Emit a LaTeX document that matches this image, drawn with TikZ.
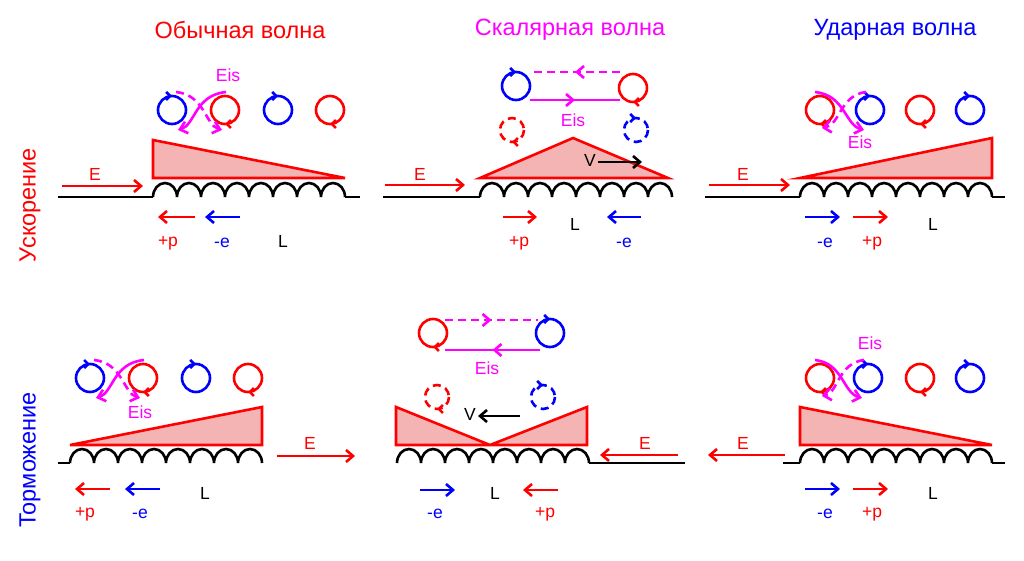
\documentclass[tikz,border=0pt]{standalone}
\usepackage{fontspec}
\setmainfont{Liberation Sans}
\usetikzlibrary{arrows.meta}
\usetikzlibrary{decorations.markings}

\definecolor{wavered}{RGB}{255,0,0}
\definecolor{wavepink}{RGB}{245,180,180}
\definecolor{eisc}{RGB}{255,0,255}
\definecolor{elblue}{RGB}{0,0,255}

\tikzset{
  wire/.style={line width=2.6pt, black},
  wave/.style={line width=2.6pt, draw=wavered, fill=wavepink},
  fld/.style={line width=2.6pt, -{Straight Barb[length=7pt,width=12pt]}},
  lbl/.style={font=\fontsize{17.5}{17.5}\selectfont},
  ttl/.style={font=\fontsize{23.5}{23.5}\selectfont},
  tip/.style={postaction={decorate, decoration={markings, mark=at position #1 with {\arrow{Straight Barb[length=4pt,width=8pt]}}}}},
  ring/.style={line width=2.6pt},
  dsh/.style={dash pattern=on 8pt off 5pt},
  midtip/.style={postaction={decorate, decoration={markings, mark=at position 0.5 with {\arrow{Straight Barb[length=7pt,width=12pt]}}}}},
}
\newcommand\coilat[2]{\draw[wire] (#1,#2) foreach \k in {1,...,8}{ arc[start angle=180, end angle=360, x radius=12, y radius=14] };}

\begin{document}
\begin{tikzpicture}[x=1pt,y=-1pt]
\useasboundingbox (0,0) rectangle (1024,561);
% titles
\node[ttl, text=wavered] (t1) at (240,30) {Обычная волна};
\node[ttl, text=eisc] (t2) at (570,30) {Скалярная волна};
\node[ttl, text=elblue] (t3) at (895,30) {Ударная волна};
\node[ttl, text=wavered, rotate=90] (s1) at (30,205) {Ускорение};
\node[ttl, text=elblue, rotate=90] (s2) at (30,460) {Торможение};

% top left
\draw[wire] (58,197) -- (153,197); \coilat{153}{197} \draw[wire] (345,197) -- (360,197);
\draw[wave] (153,140) -- (345,178) -- (153,178) -- cycle;
\draw[fld, wavered] (62,186) -- (143,186); \node[lbl, text=wavered] (e1) at (95,174) {E};
\draw[fld, wavered] (195,217) -- (158,217); \draw[fld, elblue] (240,217) -- (205,217);
\node[lbl, text=wavered] (p1) at (168,243) {+p}; \node[lbl, text=elblue] (n1) at (222,243) {-e};
\node[lbl] (l1) at (283,241) {L};
\draw[ring, elblue, tip=0.75] (172,110) circle (14); \draw[ring, wavered, tip=0.25] (225,110) circle (14);
\draw[ring, elblue, tip=0.75] (278,110) circle (14); \draw[ring, wavered, tip=0.25] (330,110) circle (14);
\draw[fld, eisc, dsh] (176,92) .. controls (205,95) and (205,125) .. (222,130);
\draw[fld, eisc] (226,92) .. controls (195,95) and (195,125) .. (178,130);
\node[lbl, text=eisc] (q1) at (228,75) {Eis};

% top middle
\draw[wire] (383,197) -- (480,197); \coilat{480}{197}
\draw[wave] (480,178) -- (573,138) -- (668,178) -- cycle;
\draw[fld, wavered] (385,185) -- (465,185); \node[lbl, text=wavered] (e2) at (420,174) {E};
\node[lbl] (v1) at (590,160) {V}; \draw[fld, black] (598,162) -- (642,162);
\draw[fld, wavered] (503,217) -- (537,217); \draw[fld, elblue] (641,217) -- (607,217);
\node[lbl, text=wavered] (p2) at (519,243) {+p}; \node[lbl, text=elblue] (n2) at (624,243) {-e};
\node[lbl] (l2) at (575,224) {L};
\draw[ring, elblue, tip=0.75] (516,86) circle (14); \draw[ring, wavered, tip=0.25] (633,88) circle (14);
\draw[ring, eisc, dsh, midtip] (620,72) -- (530,72);
\draw[ring, eisc, midtip] (530,100) -- (620,100);
\node[lbl, text=eisc] (q2) at (573,120) {Eis};
\draw[ring, wavered, dsh, tip=0.25] (512,130) circle (12); \draw[ring, elblue, dsh, tip=0.75] (636,130) circle (12);

% top right
\draw[wire] (705,197) -- (800,197); \coilat{800}{197} \draw[wire] (992,197) -- (1005,197);
\draw[wave] (800,178) -- (992,138) -- (992,178) -- cycle;
\draw[fld, wavered] (709,185) -- (790,185); \node[lbl, text=wavered] (e3) at (743,174) {E};
\draw[fld, elblue] (805,217) -- (840,217); \draw[fld, wavered] (853,217) -- (888,217);
\node[lbl, text=elblue] (n3) at (825,243) {-e}; \node[lbl, text=wavered] (p3) at (872,243) {+p};
\node[lbl] (l3) at (933,224) {L};
\draw[ring, wavered, tip=0.25] (820,110) circle (14); \draw[ring, elblue, tip=0.75] (870,110) circle (14);
\draw[ring, wavered, tip=0.25] (920,110) circle (14); \draw[ring, elblue, tip=0.75] (970,110) circle (14);
\draw[fld, eisc, dsh] (866,92) .. controls (840,95) and (840,125) .. (822,128);
\draw[fld, eisc] (815,92) .. controls (845,95) and (845,125) .. (864,130);
\node[lbl, text=eisc] (q3) at (860,142) {Eis};

% bottom left
\draw[wire] (58,463) -- (70,463); \coilat{70}{463}
\draw[wave] (70,445) -- (262,407) -- (262,445) -- cycle;
\draw[fld, wavered] (277,456) -- (355,456); \node[lbl, text=wavered] (e4) at (310,443) {E};
\draw[fld, wavered] (110,489) -- (75,489); \draw[fld, elblue] (160,489) -- (125,489);
\node[lbl, text=wavered] (p4) at (85,514) {+p}; \node[lbl, text=elblue] (n4) at (140,514) {-e};
\node[lbl] (l4) at (205,493) {L};
\draw[ring, elblue, tip=0.75] (90,378) circle (14); \draw[ring, wavered, tip=0.25] (143,378) circle (14);
\draw[ring, elblue, tip=0.75] (196,378) circle (14); \draw[ring, wavered, tip=0.25] (248,378) circle (14);
\draw[fld, eisc, dsh] (94,360) .. controls (123,363) and (123,393) .. (140,398);
\draw[fld, eisc] (144,360) .. controls (113,363) and (113,393) .. (96,398);
\node[lbl, text=eisc] (q4) at (140,412) {Eis};

% bottom middle
\coilat{397}{463} \draw[wire] (589,463) -- (685,463);
\draw[wave] (396,407) -- (490,445) -- (587,407) -- (587,445) -- (396,445) -- cycle;
\draw[fld, wavered] (678,455) -- (600,455); \node[lbl, text=wavered] (e5) at (645,443) {E};
\node[lbl] (v2) at (470,414) {V}; \draw[fld, black] (520,416) -- (478,416);
\draw[fld, elblue] (420,490) -- (455,490); \draw[fld, wavered] (558,490) -- (523,490);
\node[lbl, text=elblue] (n5) at (435,514) {-e}; \node[lbl, text=wavered] (p5) at (545,514) {+p};
\node[lbl] (l5) at (495,493) {L};
\draw[ring, wavered, tip=0.25] (433,333) circle (14); \draw[ring, elblue, tip=0.75] (550,333) circle (14);
\draw[ring, eisc, dsh, midtip] (445,320) -- (538,320);
\draw[ring, eisc, midtip] (540,350) -- (445,350);
\node[lbl, text=eisc] (q5) at (487,368) {Eis};
\draw[ring, wavered, dsh, tip=0.25] (437,397) circle (12); \draw[ring, elblue, dsh, tip=0.75] (543,397) circle (12);

% bottom right
\draw[wire] (783,463) -- (800,463); \coilat{800}{463} \draw[wire] (992,463) -- (1005,463);
\draw[wave] (800,407) -- (992,445) -- (800,445) -- cycle;
\draw[fld, wavered] (785,455) -- (708,455); \node[lbl, text=wavered] (e6) at (743,443) {E};
\draw[fld, elblue] (805,489) -- (840,489); \draw[fld, wavered] (853,489) -- (888,489);
\node[lbl, text=elblue] (n6) at (825,514) {-e}; \node[lbl, text=wavered] (p6) at (872,514) {+p};
\node[lbl] (l6) at (933,493) {L};
\draw[ring, wavered, tip=0.25] (820,378) circle (14); \draw[ring, elblue, tip=0.75] (868,378) circle (14);
\draw[ring, wavered, tip=0.25] (920,378) circle (14); \draw[ring, elblue, tip=0.75] (970,378) circle (14);
\draw[fld, eisc, dsh] (864,360) .. controls (838,363) and (838,393) .. (822,396);
\draw[fld, eisc] (815,360) .. controls (843,363) and (843,393) .. (862,398);
\node[lbl, text=eisc] (q6) at (870,343) {Eis};
\end{tikzpicture}
\end{document}
